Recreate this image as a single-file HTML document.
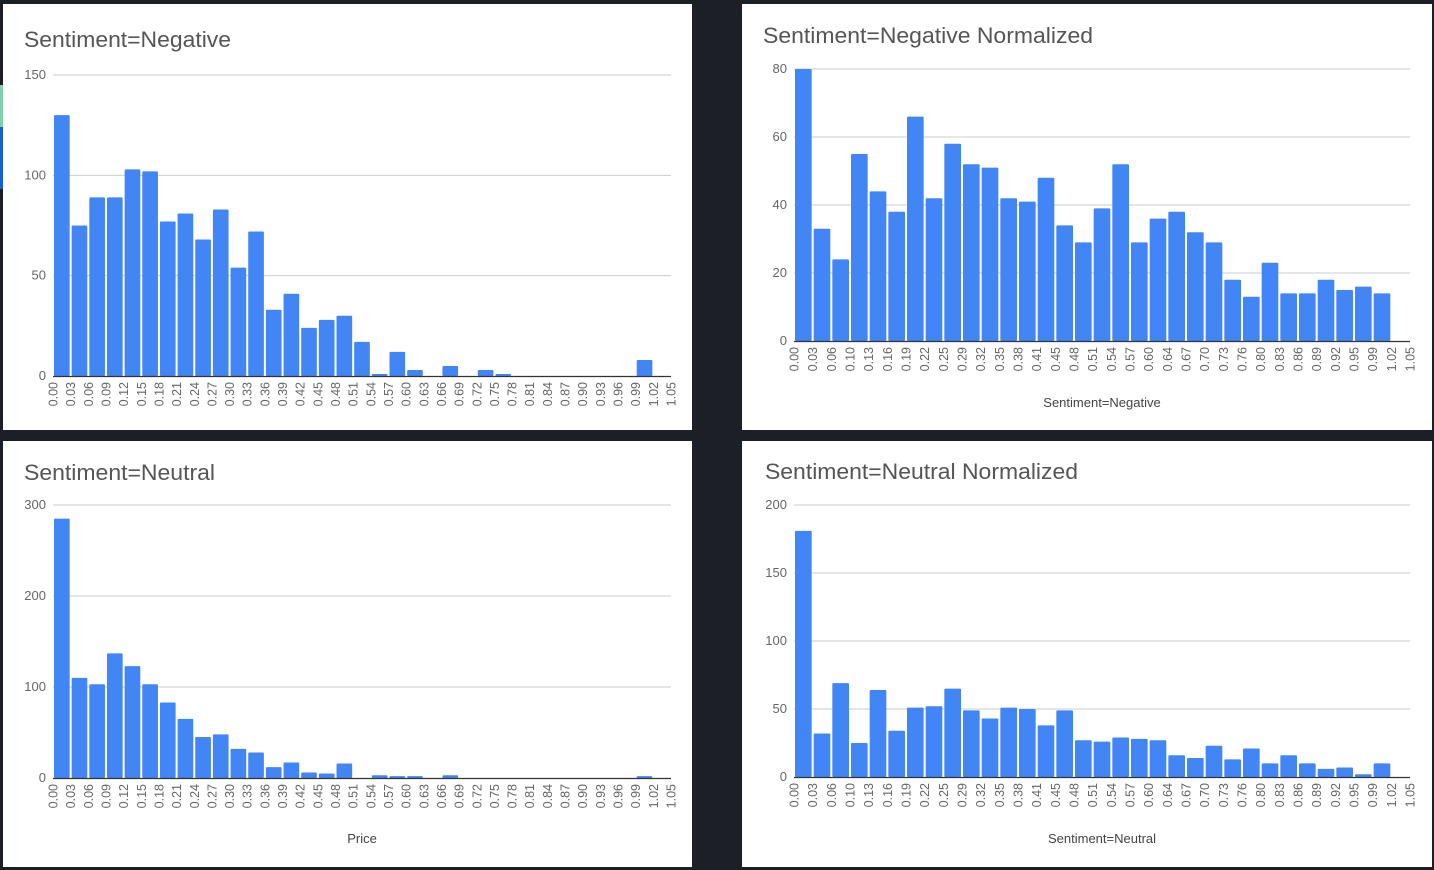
<!DOCTYPE html>
<html><head><meta charset="utf-8"><style>
html,body{margin:0;padding:0;background:#1c1f26;}
svg{display:block;font-family:"Liberation Sans",sans-serif;}
</style></head><body>
<svg id="s" width="1434" height="870" xmlns="http://www.w3.org/2000/svg">
<rect x="0" y="0" width="1434" height="870" fill="#1c1f26"/>
<rect x="0" y="85" width="3" height="42" fill="#7fd0a8"/>
<rect x="0" y="127" width="3" height="62" fill="#1a5fd0"/>
</svg>
<script>
const negCounts=[130,75,89,89,103,102,77,81,68,83,54,72,33,41,24,28,30,17,1,12,3,0,5,0,3,1,0,0,0,0,0,0,0,8,0];
const neuCounts=[285,110,103,137,123,103,83,65,45,48,32,28,12,17,6,5,16,0,3,2,2,0,3,0,0,0,0,0,0,0,0,0,0,2,0];
const negNorm=[80,33,24,55,44,38,66,42,58,52,51,42,41,48,34,29,39,52,29,36,38,32,29,18,13,23,14,14,18,15,16,14,0];
const neuNorm=[181,32,69,25,64,34,51,52,65,49,43,51,50,38,49,27,26,29,28,27,16,14,23,13,21,10,16,10,6,7,2,10,0];
const ticksA=["0.00","0.03","0.06","0.09","0.12","0.15","0.18","0.21","0.24","0.27","0.30","0.33","0.36","0.39","0.42","0.45","0.48","0.51","0.54","0.57","0.60","0.63","0.66","0.69","0.72","0.75","0.78","0.81","0.84","0.87","0.90","0.93","0.96","0.99","1.02","1.05"];
const ticksB=["0.00","0.03","0.06","0.10","0.13","0.16","0.19","0.22","0.25","0.29","0.32","0.35","0.38","0.41","0.45","0.48","0.51","0.54","0.57","0.60","0.64","0.67","0.70","0.73","0.76","0.80","0.83","0.86","0.89","0.92","0.95","0.99","1.02","1.05"];
const yTicksNeg=[0,50,100,150];
const yTicksNeu=[0,100,200,300];
const yTicksNegN=[0,20,40,60,80];
const yTicksNeuN=[0,50,100,150,200];

const NS="http://www.w3.org/2000/svg";
const svg=document.getElementById('s');
function mk(tag,attrs,parent){const e=document.createElementNS(NS,tag);for(const k in attrs)e.setAttribute(k,attrs[k]);(parent||svg).appendChild(e);return e;}

function chart(cfg){
  const g=mk('g',{});
  
  
  const bg=mk('rect',{x:cfg.px,y:cfg.py,width:cfg.pw,height:cfg.ph,fill:'#fff'},g);
  
  
  const t=mk('text',{x:cfg.tx,y:cfg.ty,'font-size':22.5,fill:'#555',textLength:cfg.tl,lengthAdjust:'spacingAndGlyphs'},g);
  t.textContent=cfg.title;
  
  
  const ymax=cfg.yTicks[cfg.yTicks.length-1];
  const ys=v=>cfg.y0-(v/ymax)*(cfg.y0-cfg.y1);
  const n=cfg.ticks.length-1;
  const xs=i=>cfg.x0+(i/n)*(cfg.x1-cfg.x0);
  cfg.yTicks.forEach(v=>{
    if(v>0){const l=mk('line',{x1:cfg.x0,x2:cfg.x1,y1:ys(v),y2:ys(v),stroke:'#ccc','stroke-width':1},g);
      
      }
    const tl=mk('text',{x:cfg.x0-7,y:ys(v)+4,'font-size':13,fill:'#666','text-anchor':'end'},g);
    tl.textContent=v;
    
    
  });
  cfg.data.forEach((v,i)=>{
    if(v<=0)return;
    const a=xs(i)+1,b=xs(i+1)-1;
    const r=mk('rect',{x:a,y:ys(v),width:b-a,height:cfg.y0-ys(v),fill:'#4285f4',rx:1},g);
    
    
  });
  const ax=mk('line',{x1:cfg.x0,x2:cfg.x1,y1:cfg.y0+0.5,y2:cfg.y0+0.5,stroke:'#333','stroke-width':1.2},g);
  
  
  cfg.ticks.forEach((lab,i)=>{
    const x=xs(i)+4.5,y=cfg.y0+6;
    const tl=mk('text',{x:x,y:y,'font-size':12.5,fill:'#666','text-anchor':'end',transform:'rotate(-90 '+x+' '+y+')'},g);
    tl.textContent=lab;
    
    
  });
  if(cfg.xTitle){
    const xt=mk('text',{x:cfg.xtx,y:cfg.xty,'font-size':13,fill:'#444','text-anchor':'middle'},g);
    xt.textContent=cfg.xTitle;
    
    
  }
}
chart({name:'negative-chart',px:3,py:4,pw:689,ph:426,tx:24,ty:47,tl:207,title:'Sentiment=Negative',x0:53,x1:671,y0:376,y1:75,yTicks:yTicksNeg,data:negCounts,ticks:ticksA});
chart({name:'negative-normalized-chart',px:742,py:4,pw:690,ph:426,tx:763,ty:43,tl:330,title:'Sentiment=Negative Normalized',x0:794,x1:1410,y0:341,y1:69,yTicks:yTicksNegN,data:negNorm,ticks:ticksB,xTitle:'Sentiment=Negative',xtx:1102,xty:407});
chart({name:'neutral-chart',px:3,py:441,pw:689,ph:426,tx:24,ty:480,tl:191,title:'Sentiment=Neutral',x0:53,x1:671,y0:778,y1:505,yTicks:yTicksNeu,data:neuCounts,ticks:ticksA,xTitle:'Price',xtx:362,xty:843});
chart({name:'neutral-normalized-chart',px:742,py:441,pw:690,ph:426,tx:765,ty:479,tl:313,title:'Sentiment=Neutral Normalized',x0:794,x1:1410,y0:777,y1:505,yTicks:yTicksNeuN,data:neuNorm,ticks:ticksB,xTitle:'Sentiment=Neutral',xtx:1102,xty:843});
</script>
</body></html>
